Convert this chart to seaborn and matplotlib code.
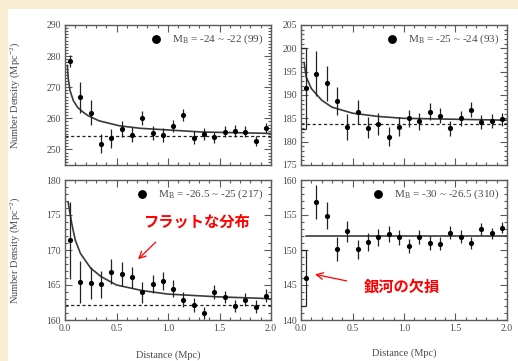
import numpy as np
import pandas as pd
import matplotlib
matplotlib.use("Agg")
import matplotlib.pyplot as plt
import matplotlib.ticker as mticker
from matplotlib.patches import Rectangle
import seaborn as sns

# ── Data ─────────────────────────────────────────────────────────────────────
DIST = [0.05, 0.15, 0.25, 0.35, 0.45, 0.55, 0.65, 0.75, 0.85, 0.95,
        1.05, 1.15, 1.25, 1.35, 1.45, 1.55, 1.65, 1.75, 1.85, 1.95]
BIN_LO = 0.0  # left edge of the first bin

dens_a = [278.4, 266.7, 261.8, 251.9, 253.6, 256.5, 254.8, 260.1, 255.2, 254.6,
          257.5, 261.0, 253.8, 255.0, 253.9, 255.7, 255.9, 255.7, 252.7, 257.0]
err_a = [2.0, 5.0, 4.0, 3.2, 3.1, 2.5, 2.5, 2.4, 2.2, 2.2,
         2.0, 2.0, 2.0, 2.0, 1.8, 1.8, 1.8, 1.8, 1.6, 1.6]
fit_x_a = [0.023, 0.032, 0.049, 0.081, 0.123, 0.179, 0.227, 0.331, 0.529, 0.73, 1.03, 1.33, 1.93, 2.0]
fit_y_a = [277.0, 272.7, 268.9, 265.7, 263.5, 261.9, 260.8, 259.2, 257.6, 256.8, 256.2, 255.6, 255.2, 255.1]
bg_a = 254.3

dens_b = [191.4, 194.6, 192.5, 188.8, 183.2, 186.4, 183.0, 183.8, 181.1, 183.2,
          185.0, 184.4, 186.4, 185.6, 182.9, 185.0, 186.8, 184.2, 184.5, 184.8]
err_b = [8.6, 4.9, 3.8, 3.0, 2.8, 2.6, 2.3, 2.4, 2.0, 2.0,
         1.8, 1.8, 1.8, 1.6, 1.6, 1.6, 1.6, 1.5, 1.5, 1.4]
fit_x_b = [0.03, 0.05, 0.1, 0.2, 0.3, 0.5, 0.75, 1.0, 1.5, 2.0]
fit_y_b = [197.0, 193.9, 191.4, 188.9, 187.4, 186.1, 185.4, 185.0, 184.8, 184.6]
bg_b = 183.8

dens_c = [171.4, 165.5, 165.3, 165.1, 166.9, 166.6, 166.1, 164.0, 165.2, 165.6,
          164.5, 162.9, 162.2, 161.0, 164.0, 163.3, 162.0, 162.9, 161.9, 163.5]
err_c = [5.5, 3.0, 2.3, 1.9, 1.8, 1.7, 1.5, 1.5, 1.3, 1.3,
         1.2, 1.1, 1.0, 0.9, 1.0, 0.9, 0.9, 0.9, 0.9, 0.9]
fit_x_c = [0.03, 0.065, 0.1, 0.15, 0.25, 0.35, 0.5, 0.75, 1.0, 1.5, 1.9, 2.0]
fit_y_c = [176.9, 173.8, 171.4, 169.5, 167.4, 166.2, 165.0, 164.2, 163.7, 163.3, 163.1, 163.0]
bg_c = 162.2

dens_d = [146.0, 156.9, 154.9, 150.2, 152.7, 150.1, 151.1, 151.8, 152.3, 151.8,
          150.6, 151.9, 151.0, 150.9, 152.5, 151.9, 151.0, 153.0, 152.4, 153.2]
err_d = [4.0, 2.4, 1.9, 1.7, 1.5, 1.4, 1.3, 1.2, 1.1, 1.1,
         1.0, 1.0, 1.0, 0.9, 0.9, 0.9, 0.9, 0.8, 0.8, 0.8]
fit_x_d = [0.05, 2.0]
fit_y_d = [152.0, 152.0]
bg_d = None

LABELS = [r"M$_\mathregular{B}$ = -24 ~ -22 (99)",
          r"M$_\mathregular{B}$ = -25 ~ -24 (93)",
          r"M$_\mathregular{B}$ = -26.5 ~ -25 (217)",
          r"M$_\mathregular{B}$ = -30 ~ -26.5 (310)"]
YLIMS = [(245, 290), (175, 205), (160, 180), (140, 160)]
YMAJOR = [10, 5, 5, 5]
BRACKET = [False, True, False, True]  # first-bin bracket visible in the reference

PANELS = [
    (dens_a, err_a, fit_x_a, fit_y_a, bg_a),
    (dens_b, err_b, fit_x_b, fit_y_b, bg_b),
    (dens_c, err_c, fit_x_c, fit_y_c, bg_c),
    (dens_d, err_d, fit_x_d, fit_y_d, bg_d),
]

# ── Style ────────────────────────────────────────────────────────────────────
sns.set_theme(style="ticks")
plt.rcParams["font.family"] = ["Liberation Serif", "DejaVu Serif"]
plt.rcParams["mathtext.fontset"] = "stix"
TXT = "#4a4a4a"
AX = "#5a5a5a"
JP = ["Noto Sans CJK JP", "DejaVu Sans"]

fig = plt.figure(figsize=(5.18, 3.61), dpi=100)
fig.patch.set_facecolor("#f7eed3")
fig.add_artist(Rectangle((8 / 518, 0), 1, 1 - 9 / 361, transform=fig.transFigure,
                         facecolor="white", edgecolor="none", zorder=0))

W, H = 206 / 518, 140 / 361
rects = [
    (65 / 518, 1 - 165 / 361, W, H),
    (301 / 518, 1 - 165 / 361, W, H),
    (65 / 518, 1 - 320 / 361, W, H),
    (301 / 518, 1 - 320 / 361, W, H),
]

axes = []
for i, (rect, (dens, err, fx, fy, bg)) in enumerate(zip(rects, PANELS)):
    ax = fig.add_axes(rect)
    ax.set_zorder(2)
    df = pd.DataFrame({"Distance": DIST, "Density": dens, "Err": err})

    ax.errorbar(df["Distance"], df["Density"], yerr=df["Err"], fmt="none",
                ecolor="#222222", elinewidth=0.9, capsize=0, zorder=3)
    if BRACKET[i]:
        y0, e0 = dens[0], err[0]
        ax.hlines([y0 - e0, y0 + e0], BIN_LO, DIST[0], color="#222222", lw=0.9, zorder=3)
    sns.scatterplot(data=df, x="Distance", y="Density", ax=ax, color="black",
                    s=14, edgecolor="black", linewidth=0, zorder=4, label=LABELS[i])
    sns.lineplot(x=fx, y=fy, ax=ax, color="#3a3a3a", lw=1.2, sort=False,
                 estimator=None, zorder=2)
    if bg is not None:
        ax.axhline(bg, color="#222222", lw=0.9, ls=(0, (2.5, 2)), zorder=2)

    ax.set_xlim(0, 2.0)
    ax.set_ylim(*YLIMS[i])
    ax.xaxis.set_major_locator(mticker.MultipleLocator(0.5))
    ax.xaxis.set_minor_locator(mticker.MultipleLocator(0.1))
    ax.xaxis.set_major_formatter(mticker.FormatStrFormatter("%.1f"))
    ax.yaxis.set_major_locator(mticker.MultipleLocator(YMAJOR[i]))
    ax.yaxis.set_minor_locator(mticker.MultipleLocator(1))
    ax.tick_params(which="both", direction="in", top=True, right=True,
                   colors=AX, labelcolor=TXT, labelsize=7, pad=3, width=0.8)
    ax.tick_params(which="major", length=5)
    ax.tick_params(which="minor", length=2.5)
    for sp in ax.spines.values():
        sp.set_color(AX)
        sp.set_linewidth(1.0)

    leg = ax.legend(loc="upper right", frameon=False, fontsize=8, markerscale=1.7,
                    handletextpad=0.9, borderaxespad=0.3, handlelength=1.0)
    for t in leg.get_texts():
        t.set_color(TXT)

    if i < 2:
        ax.tick_params(labelbottom=False)
        ax.set_xlabel("")
    else:
        ax.set_xlabel("Distance (Mpc)", fontsize=7.5, color=TXT)
        ax.xaxis.set_label_coords(0.5, -0.22 if i == 2 else -0.2)
    if i % 2 == 0:
        ax.set_ylabel(r"Number Density (Mpc$^\mathregular{-2}$)", fontsize=7.5, color=TXT)
        ax.yaxis.set_label_coords(-0.205, 0.5)
    else:
        ax.set_ylabel("")
    axes.append(ax)

# ── Japanese annotations ─────────────────────────────────────────────────────
ax3, ax4 = axes[2], axes[3]
ax3.text(1.28, 174.0, "フラットな分布", color="red", fontsize=11, fontweight="bold",
         family=JP, ha="center", va="center", zorder=6)
ax3.annotate("", xy=(0.69, 168.4), xytext=(0.90, 171.4),
             arrowprops=dict(arrowstyle="->", color="red", lw=0.9), zorder=6)

ax4.text(0.98, 144.7, "銀河の欠損", color="red", fontsize=11, fontweight="bold",
         family=JP, ha="center", va="center", zorder=6)
ax4.annotate("", xy=(0.11, 146.6), xytext=(0.47, 145.5),
             arrowprops=dict(arrowstyle="->", color="red", lw=0.9), zorder=6)

plt.savefig("out.png", dpi=100)
plt.close()
